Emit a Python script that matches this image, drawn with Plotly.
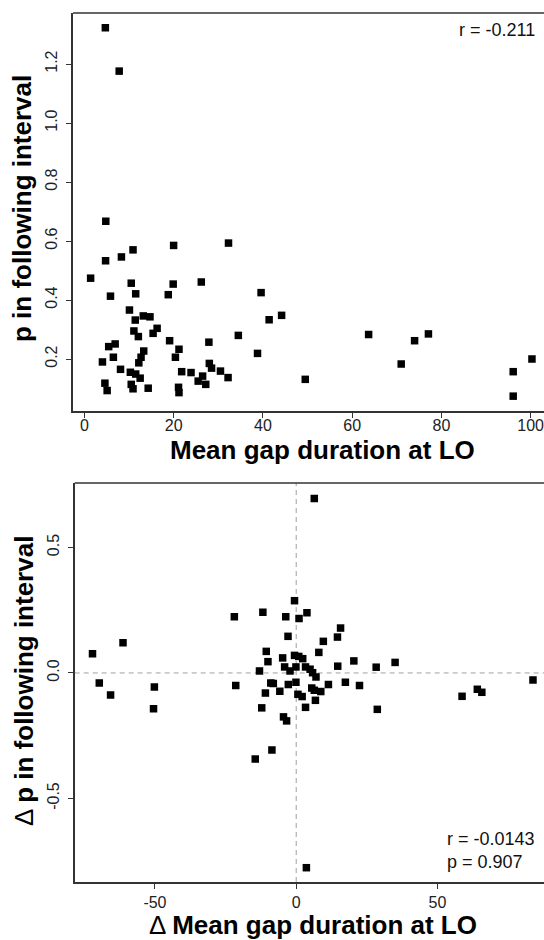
import plotly.graph_objects as go

W, H = 544, 940

# ---- Top panel data: mean gap duration at LO vs p in following interval
top_x = [4.7, 7.8, 4.8, 20.0, 32.3, 10.9, 8.3, 4.75, 1.4, 10.5, 19.9, 26.2, 5.85, 11.5, 18.8, 39.6,
         10.1, 11.4, 13.2, 14.7, 16.3, 15.4, 11.1, 12.1, 19.1, 21.2, 20.4, 27.9, 34.5, 41.4, 44.2,
         38.8, 63.7, 74.0, 77.1, 71.0, 100.3, 96.1, 96.1, 49.5, 4.05, 5.45, 6.9, 6.5, 8.1, 10.3,
         11.5, 12.5, 12.2, 12.7, 13.3, 10.5, 10.9, 14.3, 4.6, 5.1, 21.1, 21.2, 21.8, 23.9, 25.5,
         26.5, 27.2, 28.0, 28.5, 30.5, 32.2]
top_y = [1.323, 1.176, 0.667, 0.585, 0.593, 0.570, 0.546, 0.533, 0.474, 0.457, 0.454, 0.461, 0.413,
         0.421, 0.418, 0.425, 0.366, 0.332, 0.346, 0.343, 0.304, 0.287, 0.295, 0.276, 0.262, 0.233,
         0.206, 0.257, 0.280, 0.333, 0.348, 0.219, 0.283, 0.262, 0.285, 0.183, 0.200, 0.157, 0.074,
         0.131, 0.190, 0.242, 0.251, 0.206, 0.165, 0.155, 0.149, 0.135, 0.187, 0.206, 0.227, 0.114,
         0.099, 0.101, 0.118, 0.093, 0.104, 0.086, 0.157, 0.154, 0.125, 0.142, 0.114, 0.185, 0.169,
         0.159, 0.137]

# ---- Bottom panel data: differences
bot_x = [6.4, -0.6, -21.9, -11.8, -3.7, 1.0, 3.8, 15.7, -2.9, 14.6, 9.6, -61.3, -72.1, -10.6, 8.0,
         -10.0, -4.8, -0.6, 0.9, 2.3, 20.4, 35.0, -13.0, -4.1, -2.2, -0.1, 3.3, 4.9, 5.8, 7.0, 14.7,
         28.3, -69.7, -65.7, -50.2, -50.5, -21.4, -8.1, -2.8, -0.1, -10.9, -5.8, 0.6, 2.1, 5.5, 6.4,
         8.7, 11.4, 17.4, 22.4, 6.8, 3.3, -12.2, 28.7, -4.5, -3.4, -8.6, -14.5, 58.7, 64.1, 65.7,
         83.8, 3.6, -9.0]
bot_y = [0.695, 0.288, 0.224, 0.242, 0.224, 0.217, 0.240, 0.179, 0.146, 0.143, 0.126, 0.120, 0.077,
         0.086, 0.082, 0.045, 0.060, 0.070, 0.066, 0.057, 0.048, 0.042, 0.008, 0.024, 0.008, 0.024,
         0.024, 0.015, 0.001, -0.016, 0.027, 0.023, -0.040, -0.088, -0.056, -0.143, -0.050, -0.042,
         -0.046, -0.037, -0.080, -0.073, -0.085, -0.094, -0.060, -0.069, -0.074, -0.046, -0.037,
         -0.050, -0.109, -0.137, -0.139, -0.145, -0.175, -0.191, -0.307, -0.343, -0.093, -0.065,
         -0.077, -0.028, -0.776, -0.040]

top_xticks = [0, 20, 40, 60, 80, 100]
top_yticks = [0.2, 0.4, 0.6, 0.8, 1.0, 1.2]
top_yticklabels = ["0.2", "0.4", "0.6", "0.8", "1.0", "1.2"]
bot_xticks = [-50, 0, 50]
bot_yticks = [-0.5, 0.0, 0.5]
bot_yticklabels = ["-0.5", "0.0", "0.5"]

FONT = "Liberation Sans, Arial, Helvetica, sans-serif"
AX = "#333333"


def fx(p):
    return p / W


def fy(p):
    return 1 - p / H


fig = go.Figure()
marker = dict(symbol="square", size=7.5, color="black", line=dict(width=0))
fig.add_trace(go.Scatter(x=top_x, y=top_y, mode="markers", marker=marker,
                         xaxis="x", yaxis="y", showlegend=False))
fig.add_trace(go.Scatter(x=bot_x, y=bot_y, mode="markers", marker=marker,
                         xaxis="x2", yaxis="y2", showlegend=False))

axis_common = dict(showline=True, linecolor=AX, linewidth=1.5, ticks="outside", ticklen=5,
                   tickwidth=1.2, tickcolor=AX, showgrid=False, zeroline=False,
                   tickfont=dict(family=FONT, size=16, color="#222222"))

fig.update_layout(
    width=W, height=H, margin=dict(l=0, r=0, t=0, b=0),
    paper_bgcolor="white", plot_bgcolor="white",
    xaxis=dict(domain=[fx(73), 1.0], range=[-2.55, 103.0], anchor="y",
               tickvals=top_xticks, ticktext=[str(v) for v in top_xticks],
               ticklabeloverflow="allow", ticklabelstandoff=-6, **axis_common),
    yaxis=dict(domain=[fy(411), fy(13)], range=[0.0237, 1.373], anchor="x",
               tickvals=top_yticks, ticktext=top_yticklabels, tickangle=-90,
               ticklabelstandoff=3, **axis_common),
    xaxis2=dict(domain=[fx(74.7), 1.0], range=[-78.4, 87.7], anchor="y2",
                tickvals=bot_xticks, ticktext=[str(v) for v in bot_xticks],
                ticklabeloverflow="allow", ticklabelstandoff=0, **axis_common),
    yaxis2=dict(domain=[fy(882), fy(483)], range=[-0.833, 0.757], anchor="x2",
                tickvals=bot_yticks, ticktext=bot_yticklabels, tickangle=-90,
                ticklabelstandoff=3, **axis_common),
)

shapes = [
    dict(type="line", xref="paper", yref="paper", x0=fx(73), x1=1.0, y0=fy(13), y1=fy(13),
         line=dict(color=AX, width=1.5)),
    dict(type="line", xref="paper", yref="paper", x0=fx(74.7), x1=1.0, y0=fy(483), y1=fy(483),
         line=dict(color=AX, width=1.5)),
    dict(type="line", xref="x2", yref="y2 domain", x0=0, x1=0, y0=0, y1=1,
         line=dict(color="#a0a0a0", width=1, dash="5px,4px"), layer="below"),
    dict(type="line", xref="x2 domain", yref="y2", x0=0, x1=1, y0=0, y1=0,
         line=dict(color="#a0a0a0", width=1, dash="5px,4px"), layer="below"),
]
fig.update_layout(shapes=shapes)

title_font = dict(family=FONT, size=26, color="black")
txt_font = dict(family=FONT, size=18, color="#111111")
annotations = [
    dict(text="r = -0.211", x=fx(537), y=fy(30), xref="paper", yref="paper",
         xanchor="right", yanchor="middle", showarrow=False, font=txt_font),
    dict(text="r = -0.0143", x=fx(445), y=fy(839), xref="paper", yref="paper",
         xanchor="left", yanchor="middle", showarrow=False, font=txt_font),
    dict(text="p = 0.907", x=fx(445), y=fy(862), xref="paper", yref="paper",
         xanchor="left", yanchor="middle", showarrow=False, font=txt_font),
    dict(text="<b>Mean gap duration at LO</b>", x=fx(322), y=fy(450), xref="paper", yref="paper",
         xanchor="center", yanchor="middle", showarrow=False, font=title_font),
    dict(text="<b>p in following interval</b>", x=fx(22), y=fy(209), xref="paper", yref="paper",
         xanchor="center", yanchor="middle", textangle=-90, showarrow=False, font=title_font),
    dict(text="Δ <b>Mean gap duration at LO</b>", x=fx(313), y=fy(925), xref="paper", yref="paper",
         xanchor="center", yanchor="middle", showarrow=False, font=title_font),
    dict(text="Δ <b>p in following interval</b>", x=fx(24), y=fy(681), xref="paper", yref="paper",
         xanchor="center", yanchor="middle", textangle=-90, showarrow=False, font=title_font),
]
fig.update_layout(annotations=annotations)

fig.write_html("out.html")
